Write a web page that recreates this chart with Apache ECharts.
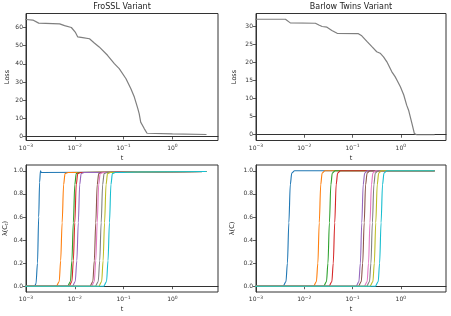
<!DOCTYPE html>
<html>
<head>
<meta charset="utf-8">
<script src="https://cdn.jsdelivr.net/npm/echarts@6/dist/echarts.min.js"></script>
<style>
html,body{margin:0;padding:0;background:#fff;}
#c{width:451px;height:316px;}
</style>
</head>
<body>
<div id="c"></div>
<script>
// ---------- DATA ----------
const titles = ['FroSSL Variant', 'Barlow Twins Variant'];
const xName = 't';
const lossName = 'Loss';
const lambdaNames = ['λ(C{sub|t})', 'λ(C)'];
const colors = ['#1f77b4','#ff7f0e','#2ca02c','#d62728','#9467bd','#8c564b','#e377c2','#7f7f7f','#bcbd22','#17becf'];

// Top-left: FroSSL loss
const frosslLossT = [0.0001,0.001,0.00138,0.00182,0.0020,0.0049,0.00617,0.00676,0.00851,0.0102,0.0115,0.0145,0.020,0.0251,0.0316,0.0468,0.0646,0.0813,0.112,0.141,0.166,0.195,0.209,0.224,0.263,0.302,1.0,5.0];
const frosslLoss  = [64.5,64.4,64.1,62.4,62.0,62.0,61.0,60.5,60.0,57.5,54.8,54.4,53.8,51.5,49.3,44.7,40.1,37.4,31.8,26.3,21.7,15.5,12.5,7.9,4.5,1.8,1.5,1.1];

// Top-right: Barlow Twins loss
const barlowLossT = [0.0001,0.001,0.00407,0.00437,0.00513,0.0170,0.020,0.0234,0.0295,0.0372,0.0479,0.132,0.155,0.200,0.251,0.316,0.372,0.437,0.513,0.646,0.759,0.832,0.977,1.148,1.318,1.445,1.698,1.905,2.138,5.0];
const barlowLoss  = [32.0,32.0,32.0,31.7,31.0,30.9,30.4,30.0,29.8,28.9,28.1,28.0,27.4,25.8,24.4,23.0,22.6,21.6,20.2,17.5,16.1,15.1,13.3,11.0,8.2,6.8,3.1,0.3,0.0,0.0];

// Bottom-left: FroSSL eigenvalue trajectories (one row per eigenvalue)
const frosslEigT = [
  [0.0001,0.0015,0.0016,0.00172,0.00182,0.0019,0.00198,0.00206,0.2,5],
  [0.0001,0.00417,0.00479,0.00513,0.00550,0.00590,0.00631,0.00725,0.2,5],
  [0.0001,0.00708,0.00813,0.00871,0.00933,0.0100,0.0107,0.0123,0.2,5],
  [0.0001,0.00759,0.00871,0.00933,0.0100,0.0107,0.0115,0.0132,0.2,5],
  [0.0001,0.00892,0.0102,0.0110,0.0118,0.0126,0.0135,0.0155,0.2,5],
  [0.0001,0.0204,0.0234,0.0251,0.0269,0.0288,0.0309,0.0355,0.2,5],
  [0.0001,0.0219,0.0251,0.0269,0.0288,0.0309,0.0331,0.0380,0.2,5],
  [0.0001,0.0263,0.0302,0.0324,0.0347,0.0372,0.0398,0.0457,0.2,5],
  [0.0001,0.0309,0.0355,0.0380,0.0407,0.0437,0.0468,0.0537,0.2,5],
  [0.0001,0.0389,0.0447,0.0479,0.0513,0.0550,0.0589,0.0676,0.2,5]
];
const frosslEigV = [
  [0,0,0.02,0.2,0.6,0.9,1.0,0.985,0.99,0.994],
  [0,0,0.04,0.22,0.55,0.88,0.975,0.985,0.99,0.994],
  [0,0,0.04,0.22,0.55,0.88,0.975,0.985,0.99,0.994],
  [0,0,0.04,0.22,0.55,0.88,0.975,0.985,0.99,0.994],
  [0,0,0.04,0.22,0.55,0.88,0.975,0.985,0.99,0.994],
  [0,0,0.04,0.22,0.55,0.88,0.975,0.985,0.99,0.994],
  [0,0,0.04,0.22,0.55,0.88,0.975,0.985,0.99,0.994],
  [0,0,0.04,0.22,0.55,0.88,0.975,0.985,0.99,0.994],
  [0,0,0.04,0.22,0.55,0.88,0.975,0.985,0.99,0.994],
  [0,0,0.04,0.22,0.55,0.88,0.975,0.985,0.99,0.994]
];

// Bottom-right: Barlow Twins eigenvalue trajectories
const barlowEigT = [
  [0.0001,0.00363,0.00417,0.00447,0.00479,0.00513,0.00550,0.00631,5],
  [0.0001,0.0155,0.0178,0.0191,0.0204,0.0219,0.0234,0.0269,5],
  [0.0001,0.0251,0.0288,0.0309,0.0331,0.0355,0.0380,0.0437,5],
  [0.0001,0.0324,0.0372,0.0398,0.0427,0.0457,0.0490,0.0562,5],
  [0.0001,0.118,0.135,0.145,0.155,0.166,0.178,0.204,5],
  [0.0001,0.132,0.151,0.162,0.174,0.186,0.200,0.229,5],
  [0.0001,0.174,0.200,0.214,0.229,0.246,0.263,0.302,5],
  [0.0001,0.195,0.224,0.240,0.257,0.276,0.295,0.339,5],
  [0.0001,0.229,0.263,0.282,0.302,0.324,0.347,0.398,5],
  [0.0001,0.295,0.339,0.363,0.389,0.417,0.447,0.513,5]
];
const barlowEigV = [
  [0,0,0.04,0.2,0.55,0.88,0.98,1.0,1.0],
  [0,0,0.04,0.2,0.55,0.88,0.98,1.0,1.0],
  [0,0,0.04,0.2,0.55,0.88,0.98,1.0,1.0],
  [0,0,0.04,0.2,0.55,0.88,0.98,1.0,1.0],
  [0,0,0.04,0.2,0.55,0.88,0.98,1.0,1.0],
  [0,0,0.04,0.2,0.55,0.88,0.98,1.0,1.0],
  [0,0,0.04,0.2,0.55,0.88,0.98,1.0,1.0],
  [0,0,0.04,0.2,0.55,0.88,0.98,1.0,1.0],
  [0,0,0.04,0.2,0.55,0.88,0.98,1.0,1.0],
  [0,0,0.04,0.2,0.55,0.88,0.98,1.0,1.0]
];

// ---------- CHART ----------
const FONT = 'DejaVu Sans';
const AX = '#333';
const zip = (a, b) => a.map((v, i) => [v, b[i]]);

const grids = [
  {left: 26, top: 13.5, width: 192, height: 127},
  {left: 256, top: 13.5, width: 190, height: 127},
  {left: 26, top: 165, width: 192, height: 127},
  {left: 256, top: 165, width: 190, height: 127}
].map(g => Object.assign({show: true, borderColor: AX, borderWidth: 1, backgroundColor: 'transparent'}, g));

const supRich = {
  b: {fontSize: 6, fontFamily: FONT, color: AX},
  s: {fontSize: 4.5, fontFamily: FONT, color: AX, padding: [0, 0, 4, 0]}
};

function xAxis(gi, gap) {
  return {
    type: 'log', gridIndex: gi, min: 0.001, max: 8.6, logBase: 10,
    name: xName, nameLocation: 'middle', nameGap: gap,
    nameTextStyle: {fontSize: 6.5, fontFamily: FONT, color: '#222'},
    axisLine: {show: true, lineStyle: {color: AX, width: 1}},
    axisTick: {show: true, length: 3, lineStyle: {color: AX, width: 0.8}},
    splitLine: {show: false},
    axisLabel: {
      margin: 3, showMaxLabel: false, rich: supRich,
      formatter: function (v) {
        const l = Math.log10(v);
        const e = Math.round(l);
        if (Math.abs(l - e) > 0.01) return '';
        return '{b|10}{s|' + (e < 0 ? '\u2212' + (-e) : e) + '}';
      }
    }
  };
}

function yAxis(gi, min, max, split, step, dec, name, gap) {
  return {
    type: 'value', gridIndex: gi, min: min, max: max, splitNumber: split,
    name: name, nameLocation: 'middle', nameGap: gap, nameRotate: 90,
    nameTextStyle: {fontSize: 6.5, fontFamily: FONT, color: '#222',
      rich: {sub: {fontSize: 4.5, fontFamily: FONT, color: '#222', padding: [3, 0, 0, 0]}}},
    axisLine: {show: true, lineStyle: {color: AX, width: 1}},
    axisTick: {show: true, length: 3, lineStyle: {color: AX, width: 0.8}},
    splitLine: {show: false},
    axisLabel: {
      margin: 3, fontSize: 6, fontFamily: FONT, color: AX,
      showMinLabel: false, showMaxLabel: false,
      formatter: function (v) {
        const k = v / step;
        if (Math.abs(k - Math.round(k)) > 1e-6) return '';
        return v.toFixed(dec);
      }
    }
  };
}

const series = [];
series.push({type: 'line', xAxisIndex: 0, yAxisIndex: 0, data: zip(frosslLossT, frosslLoss),
  showSymbol: false, lineStyle: {color: '#7f7f7f', width: 1.2}, itemStyle: {color: '#7f7f7f'}, animation: false});
series.push({type: 'line', xAxisIndex: 1, yAxisIndex: 1, data: zip(barlowLossT, barlowLoss),
  showSymbol: false, lineStyle: {color: '#7f7f7f', width: 1.2}, itemStyle: {color: '#7f7f7f'}, animation: false});
frosslEigT.forEach((t, i) => series.push({type: 'line', xAxisIndex: 2, yAxisIndex: 2,
  data: zip(t, frosslEigV[i]), showSymbol: false, smooth: 0.3, smoothMonotone: 'x',
  lineStyle: {color: colors[i], width: 1.1}, itemStyle: {color: colors[i]}, animation: false}));
barlowEigT.forEach((t, i) => series.push({type: 'line', xAxisIndex: 3, yAxisIndex: 3,
  data: zip(t, barlowEigV[i]), showSymbol: false, smooth: 0.3, smoothMonotone: 'x',
  lineStyle: {color: colors[i], width: 1.1}, itemStyle: {color: colors[i]}, animation: false}));

const chart = echarts.init(document.getElementById('c'), null, {renderer: 'canvas'});
chart.setOption({
  backgroundColor: '#fff',
  animation: false,
  textStyle: {fontFamily: FONT},
  grid: grids,
  xAxis: [xAxis(0, 14), xAxis(1, 14), xAxis(2, 13.5), xAxis(3, 13.5)],
  yAxis: [
    yAxis(0, -2.2, 67.7, 7, 10, 0, lossName, 15),
    yAxis(1, -1.6, 33.6, 7, 5, 0, lossName, 18),
    yAxis(2, -0.05, 1.05, 5, 0.2, 1, lambdaNames[0], 16),
    yAxis(3, -0.05, 1.05, 5, 0.2, 1, lambdaNames[1], 20)
  ],
  graphic: [
    {type: 'text', x: 122, y: 7, style: {text: titles[0], align: 'center', verticalAlign: 'middle', font: '8px "DejaVu Sans"', fill: '#222'}},
    {type: 'text', x: 351, y: 7, style: {text: titles[1], align: 'center', verticalAlign: 'middle', font: '8px "DejaVu Sans"', fill: '#222'}}
  ],
  series: series
});
</script>
</body>
</html>
